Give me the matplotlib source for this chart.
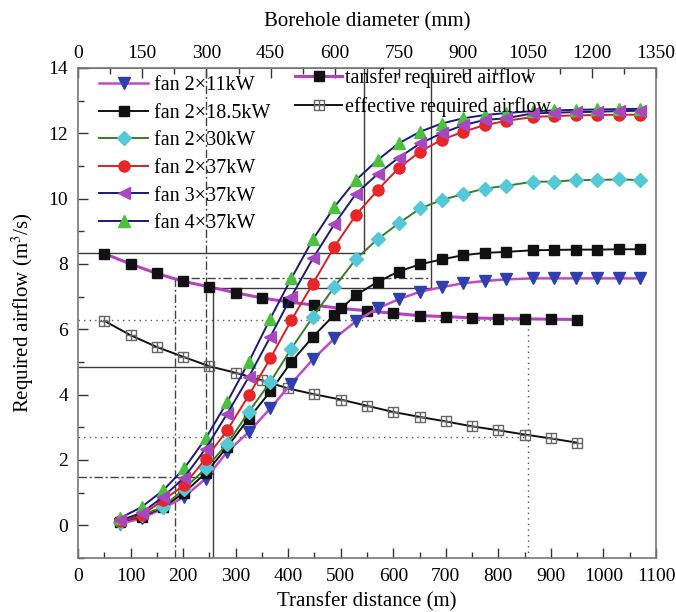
import matplotlib
matplotlib.use("Agg")
import matplotlib.pyplot as plt
from matplotlib.path import Path
from matplotlib.ticker import MultipleLocator

plt.rcParams['font.family'] = ['Liberation Serif', 'DejaVu Serif']
plt.rcParams['mathtext.fontset'] = 'stix'

# ---------------- data ----------------
x_fan = [80, 121, 162, 202, 243, 284, 325, 366, 406, 447, 488, 529, 570,
         610, 651, 692, 733, 774, 814, 865, 906, 947, 988, 1029, 1070]

fan_2x11 = [0.05, 0.21, 0.52, 0.87, 1.43, 2.25, 2.86, 3.58, 4.34, 5.08, 5.72, 6.25, 6.64,
            6.92, 7.15, 7.29, 7.41, 7.48, 7.53, 7.56, 7.56, 7.56, 7.56, 7.56, 7.56]
fan_2x18_5 = [0.10, 0.27, 0.55, 1.00, 1.60, 2.40, 3.27, 4.10, 5.00, 5.77, 6.45, 7.05, 7.45,
              7.77, 7.99, 8.14, 8.27, 8.34, 8.37, 8.42, 8.43, 8.44, 8.44, 8.45, 8.45]
fan_2x30 = [0.10, 0.31, 0.56, 1.12, 1.74, 2.50, 3.47, 4.39, 5.41, 6.38, 7.30, 8.15, 8.76,
            9.24, 9.70, 9.96, 10.14, 10.31, 10.39, 10.52, 10.52, 10.57, 10.57, 10.59, 10.57]
fan_2x37 = [0.12, 0.31, 0.77, 1.23, 2.04, 2.91, 3.98, 5.11, 6.28, 7.40, 8.53, 9.50, 10.26,
            10.93, 11.44, 11.80, 12.05, 12.25, 12.38, 12.50, 12.53, 12.55, 12.56, 12.57, 12.57]
fan_3x37 = [0.15, 0.38, 0.87, 1.46, 2.35, 3.42, 4.54, 5.77, 7.00, 8.17, 9.22, 10.15, 10.75,
            11.25, 11.69, 12.00, 12.25, 12.41, 12.46, 12.61, 12.63, 12.65, 12.66, 12.68, 12.69]
fan_4x37 = [0.22, 0.56, 1.07, 1.74, 2.66, 3.78, 5.00, 6.33, 7.56, 8.75, 9.75, 10.57, 11.18,
            11.69, 12.05, 12.30, 12.46, 12.56, 12.62, 12.68, 12.70, 12.72, 12.73, 12.74, 12.75]

x_req = [50, 100, 150, 200, 250, 300, 350, 400, 450, 500, 550, 600, 650, 700, 750,
         800, 850, 900, 950]
transfer_req = [8.32, 8.00, 7.71, 7.47, 7.30, 7.12, 6.96, 6.84, 6.74, 6.64, 6.57, 6.49,
                6.42, 6.39, 6.35, 6.33, 6.32, 6.31, 6.30]
effective_req = [6.26, 5.82, 5.46, 5.16, 4.87, 4.67, 4.44, 4.19, 4.01, 3.85, 3.66, 3.47,
                 3.32, 3.18, 3.03, 2.91, 2.78, 2.66, 2.53]

fan_labels = ['fan 2×11kW', 'fan 2×18.5kW', 'fan 2×30kW', 'fan 2×37kW',
              'fan 3×37kW', 'fan 4×37kW']
req_labels = ['tansfer required airflow', 'effective required airflow']

x_ticks = [0, 100, 200, 300, 400, 500, 600, 700, 800, 900, 1000, 1100]
top_ticks = [0, 150, 300, 450, 600, 750, 900, 1050, 1200, 1350]
y_ticks = [0, 2, 4, 6, 8, 10, 12, 14]

# ---------------- figure ----------------
fig = plt.figure(figsize=(6.76, 6.12), dpi=100)
ax = fig.add_axes([78 / 676, 1 - 558 / 612, (656 - 78) / 676, (558 - 68) / 612])
ax.set_xlim(0, 1100)
ax.set_ylim(-1, 14)

# reference (construction) lines
ref = dict(color='#3a3a3a', lw=1.0, zorder=1)
ax.plot([0, 544], [8.33, 8.33], **ref)
ax.plot([544, 544], [8.33, 14], **ref)
ax.plot([257, 672], [7.27, 7.27], **ref)
ax.plot([672, 672], [7.27, 14], **ref)
ax.plot([257, 257], [-1, 7.27], **ref)
ax.plot([0, 257], [4.85, 4.85], **ref)
dd = dict(color='#444444', lw=1.0, ls=(0, (6, 2, 1.5, 2)), zorder=1)
ax.plot([244, 244], [1.48, 14], **dd)
ax.plot([0, 244], [1.48, 1.48], **dd)
ax.plot([184, 184], [-1, 7.58], **dd)
ax.plot([184, 672], [7.58, 7.58], **dd)
dt = dict(color='#555555', lw=1.0, ls=(0, (1, 3)), zorder=1)
ax.plot([0, 856], [6.28, 6.28], **dt)
ax.plot([0, 856], [2.69, 2.69], **dt)
ax.plot([856, 856], [-1, 6.28], **dt)

# boxed-plus marker
verts = [(-1, -1), (1, -1), (1, 1), (-1, 1), (-1, -1), (0, -1), (0, 1), (-1, 0), (1, 0)]
codes = [Path.MOVETO, Path.LINETO, Path.LINETO, Path.LINETO, Path.CLOSEPOLY,
         Path.MOVETO, Path.LINETO, Path.MOVETO, Path.LINETO]
boxplus = Path(verts, codes)

h_tr, = ax.plot(x_req, transfer_req, color='#b540c0', lw=2.2, marker='s', ms=7.5,
                mfc='#111111', mec='#111111', zorder=3, label=req_labels[0])
h_ef, = ax.plot(x_req, effective_req, color='#111111', lw=1.4, marker=boxplus, ms=6.5,
                mfc='none', mec='#666666', mew=1.0, zorder=3, label=req_labels[1])

h1, = ax.plot(x_fan, fan_2x11, color='#c04ac8', lw=1.8, marker='v', ms=9,
              mfc='#2f3fae', mec='#2f3fae', zorder=4)
h2, = ax.plot(x_fan, fan_2x18_5, color='#111111', lw=1.4, marker='s', ms=7.5,
              mfc='#111111', mec='#111111', zorder=4)
h3, = ax.plot(x_fan, fan_2x30, color='#3a7a2a', lw=1.4, marker='D', ms=7,
              mfc='#55c8d8', mec='#55c8d8', zorder=4)
h4, = ax.plot(x_fan, fan_2x37, color='#d82020', lw=1.4, marker='o', ms=8,
              mfc='#e8262a', mec='#e8262a', zorder=4)
h6, = ax.plot(x_fan, fan_4x37, color='#1a1a78', lw=1.4, marker='^', ms=9,
              mfc='#4cc040', mec='#4cc040', zorder=4)
h5, = ax.plot(x_fan, fan_3x37, color='#1a1a78', lw=1.4, marker='<', ms=9,
              mfc='#a848c0', mec='#a848c0', zorder=5)

fan_handles = [h1, h2, h3, h4, h5, h6]
leg1 = ax.legend(fan_handles, fan_labels, loc='upper left', bbox_to_anchor=(0.012, 1.012),
                 frameon=False, fontsize=14.5, handlelength=2.45, handletextpad=0.3,
                 labelspacing=0.42, borderaxespad=0.3)
ax.add_artist(leg1)
ax.legend([h_tr, h_ef], req_labels, loc='upper left', bbox_to_anchor=(0.357, 1.022),
          frameon=False, fontsize=14.5, handlelength=2.3, handletextpad=0.15,
          labelspacing=0.42, borderaxespad=0.15)

# axes styling
for s in ax.spines.values():
    s.set_color('#777777')
    s.set_linewidth(1.2)
ax.set_xticks(x_ticks)
ax.set_yticks(y_ticks)
ax.xaxis.set_minor_locator(MultipleLocator(50))
ax.yaxis.set_minor_locator(MultipleLocator(1))
ax.tick_params(which='both', direction='in', top=False, right=False, colors='#333333',
               labelsize=14, labelcolor='black')
ax.tick_params(which='major', length=7, width=1)
ax.tick_params(which='minor', length=4, width=1)
ax.tick_params(axis='x', pad=7)
ax.tick_params(axis='y', pad=7)
ax.set_xlabel('Transfer distance (m)', fontsize=15, labelpad=5)
ax.set_ylabel('Required airflow (m$^3$/s)', fontsize=15, labelpad=9)

top = ax.secondary_xaxis('top', functions=(lambda x: x * 1350 / 1100,
                                            lambda d: d * 1100 / 1350))
top.set_xticks(top_ticks)
top.xaxis.set_minor_locator(MultipleLocator(75))
top.tick_params(which='both', direction='in', colors='#333333', labelsize=14,
                labelcolor='black', pad=4)
top.tick_params(which='major', length=7, width=1)
top.tick_params(which='minor', length=4, width=1)
top.spines['top'].set_color('#777777')
top.set_xlabel('Borehole diameter (mm)', fontsize=15, labelpad=14)

fig.savefig('out.png', dpi=100)
